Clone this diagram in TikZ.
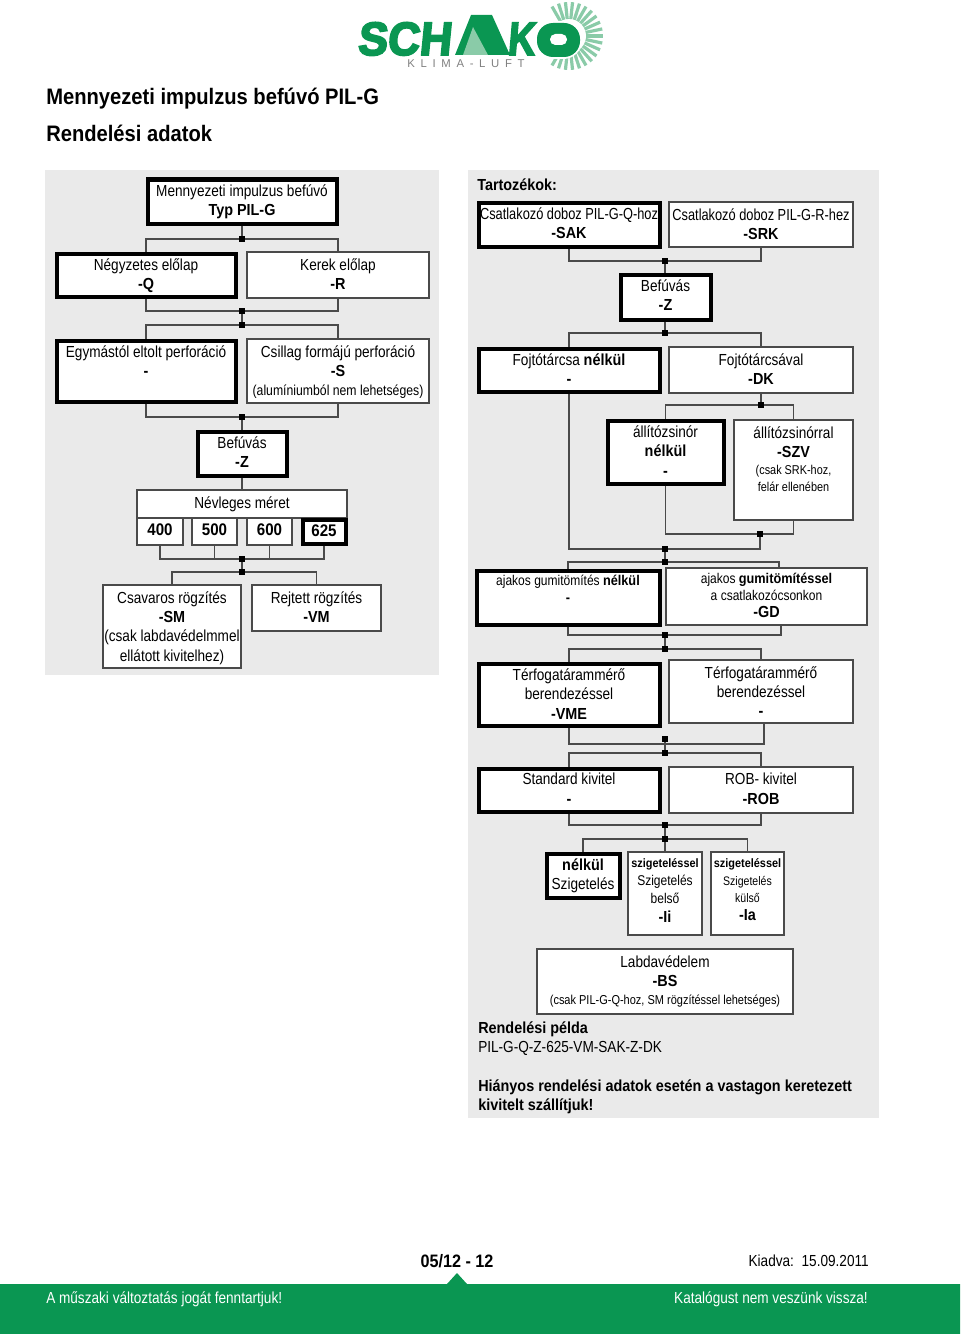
\documentclass[tikz,border=0pt]{standalone}
\usepackage{fontspec}
\setmainfont[FakeStretch=0.85,BoldFeatures={FakeStretch=0.9}]{Liberation Sans}
\newfontfamily\narrowfont[FakeStretch=0.8,BoldFeatures={FakeStretch=0.9}]{Liberation Sans}
\newfontfamily\logofont[FakeStretch=0.95,FakeSlant=0.1,FakeBold=4]{Liberation Sans Bold}
\newfontfamily\claimfont{Liberation Sans}
\definecolor{panelgray}{HTML}{EAEAEA}
\definecolor{schakogreen}{HTML}{0A9652}
\definecolor{raygreen}{HTML}{8ACBA8}
\definecolor{linegray}{HTML}{4A4A4A}
\def\px{0.75pt}
\tikzset{
  optbox/.style={draw=linegray,line width=0.85pt,fill=white,inner sep=0pt},
  heavybox/.style={draw=black,line width=3pt,fill=white,inner sep=0pt},
  txt/.style={anchor=north,align=center,inner sep=0pt,yshift=-4.9pt,
    font=\fontsize{12}{14.6}\selectfont},
  small txt/.style={txt,yshift=0.7pt,font=\fontsize{10.6}{12.8}\selectfont},
  plain/.style={anchor=west,inner sep=0pt,font=\fontsize{12}{14.25}\selectfont},
  logotxt/.style={anchor=base west,inner sep=0pt,text depth=0pt,text=schakogreen,
    font=\logofont\fontsize{35}{35}\selectfont},
  jn/.style={fill=black,inner sep=0pt,minimum size=6*\px},
  link/.style={draw=linegray,line width=0.85pt},
}
\begin{document}
\begin{tikzpicture}[x=0.75pt,y=-0.75pt]
  \useasboundingbox (0,0) rectangle (960,1334);
  %% logo
  \begin{scope}[shift={(569,36)}]
    \foreach \a in {-120,-108,...,120}
      \draw[raygreen,line width=2.4pt] (\a:17) -- (\a:34);
  \end{scope}
  \node[logotxt] (logoleft) at (357,55) {SCH};
  \fill[schakogreen] (455,55) -- (471,15) -- (492,15) -- (510,55) -- cycle;
  \fill[raygreen] (463,55) -- (473,27) -- (488,55) -- cycle;
  \fill[white,rounded corners=14] (535,21) rectangle (582,59);
  \node[logotxt] (logok) at (507,55) {\scalebox{0.85}[1]{K}};
  \fill[schakogreen,rounded corners=12] (537,23) rectangle (580,57);
  \fill[white,rounded corners=4] (550,34) rectangle (567,45);
  \node[inner sep=0pt,text=gray,font=\claimfont\fontsize{8.5}{10}\selectfont] (claim) at (466,64) {K\,\,\,L\,\,\,I\,\,\,M\,\,\,A\,\,\,-\,\,\,L\,\,\,U\,\,\,F\,\,\,T};
  %% title
  \node[plain,font=\fontsize{16.8}{20}\selectfont\bfseries] (title) at (46,99) {Mennyezeti impulzus befúvó PIL-G};
  \node[plain,font=\fontsize{16.8}{20}\selectfont\bfseries] (subtitle) at (46,133) {Rendelési adatok};
  %% panels
  \fill[panelgray] (45,170) rectangle (439,675);
  \fill[panelgray] (468,170) rectangle (879,1118);
  %% left panel
  \node[heavybox,minimum width=189*\px,minimum height=44*\px,label={[txt]north:{Mennyezeti impulzus befúvó\\\textbf{Typ PIL-G}}}] (typ) at (242,201.5) {};
  \node[heavybox,minimum width=179*\px,minimum height=43*\px,label={[txt]north:{Négyzetes előlap\\\textbf{-Q}}}] (q) at (146,275) {};
  \node[optbox,minimum width=182*\px,minimum height=46*\px,label={[txt]north:{Kerek előlap\\\textbf{-R}}}] (r) at (338,275) {};
  \node[heavybox,minimum width=179*\px,minimum height=61*\px,label={[txt]north:{Egymástól eltolt perforáció\\\textbf{-}}}] (eltolt) at (146,371) {};
  \node[optbox,minimum width=182*\px,minimum height=64*\px,label={[txt]north:{Csillag formájú perforáció\\\textbf{-S}\\{\fontsize{10.8}{14.25}\selectfont(alumíniumból nem lehetséges)}}}] (csillag) at (338,371) {};
  \node[heavybox,minimum width=89*\px,minimum height=44*\px,label={[txt]north:{Befúvás\\\textbf{-Z}}}] (befl) at (242,453.5) {};
  \node[optbox,minimum width=210*\px,minimum height=28*\px,label={[txt]north:{Névleges méret}}] (nevl) at (242,504) {};
  \node[optbox,minimum width=46*\px,minimum height=27*\px,label={[txt]north:{\fontsize{12.6}{14}\selectfont\textbf{400}}}] (s400) at (160,531.5) {};
  \node[optbox,minimum width=45*\px,minimum height=27*\px,label={[txt]north:{\fontsize{12.6}{14}\selectfont\textbf{500}}}] (s500) at (214.5,531.5) {};
  \node[optbox,minimum width=45*\px,minimum height=27*\px,label={[txt]north:{\fontsize{12.6}{14}\selectfont\textbf{600}}}] (s600) at (269.5,531.5) {};
  \node[heavybox,minimum width=43*\px,minimum height=24*\px,label={[txt]north:{\fontsize{12.6}{14}\selectfont\textbf{625}}}] (s625) at (324,531.5) {};
  \node[optbox,minimum width=138*\px,minimum height=83*\px,label={[txt]north:{Csavaros rögzítés\\\textbf{-SM}\\(csak labdavédelmmel\\ellátott kivitelhez)}}] (sm) at (172,626.5) {};
  \node[optbox,minimum width=129*\px,minimum height=46*\px,label={[txt]north:{Rejtett rögzítés\\\textbf{-VM}}}] (vm) at (316.5,608) {};
  %% left panel junctions
  \node[jn] (ja) at (242,239) {};
  \node[jn] (jb) at (242,311) {};
  \node[jn] (jc) at (242,325) {};
  \node[jn] (jd) at (242,417) {};
  \node[jn] (je) at (242,559) {};
  \node[jn] (jf) at (242,572) {};
  \draw[link] (typ) -- (ja);
  \draw[link] (q.north) |- (ja);
  \draw[link] (r.north) |- (ja);
  \draw[link] (q.south) |- (jb);
  \draw[link] (r.south) |- (jb);
  \draw[link] (jb) -- (jc);
  \draw[link] (eltolt.north) |- (jc);
  \draw[link] (csillag.north) |- (jc);
  \draw[link] (eltolt.south) |- (jd);
  \draw[link] (csillag.south) |- (jd);
  \draw[link] (jd) -- (befl);
  \draw[link] (befl) -- (nevl);
  \foreach \s in {s400,s500,s600,s625}
    \draw[link] (\s.south) |- (je);
  \draw[link] (je) -- (jf);
  \draw[link] (sm.north) |- (jf);
  \draw[link] (vm.north) |- (jf);
  %% right panel
  \node[plain,font=\fontsize{12}{14.25}\selectfont\bfseries] (tart) at (477,185) {Tartozékok:};
  \node[heavybox,minimum width=181*\px,minimum height=44*\px,label={[txt]north:{{\narrowfont Csatlakozó doboz PIL-G-Q-hoz}\\\textbf{-SAK}}}] (sak) at (569,224.5) {};
  \node[optbox,minimum width=184*\px,minimum height=45*\px,label={[txt]north:{{\narrowfont Csatlakozó doboz PIL-G-R-hez}\\\textbf{-SRK}}}] (srk) at (761,224.5) {};
  \node[heavybox,minimum width=90*\px,minimum height=45*\px,label={[txt]north:{Befúvás\\\textbf{-Z}}}] (befr) at (665.5,297) {};
  \node[heavybox,minimum width=181*\px,minimum height=43*\px,label={[txt]north:{Fojtótárcsa \textbf{nélkül}\\\textbf{-}}}] (fn) at (569,370) {};
  \node[optbox,minimum width=184*\px,minimum height=46*\px,label={[txt]north:{Fojtótárcsával\\\textbf{-DK}}}] (dk) at (761,370) {};
  \node[heavybox,minimum width=116*\px,minimum height=63*\px,label={[txt]north:{állítózsinór\\\textbf{nélkül}\\\textbf{-}}}] (zsn) at (665.5,452) {};
  \node[optbox,minimum width=119*\px,minimum height=100*\px,label={[txt]north:{állítózsinórral\\\textbf{-SZV}\\[-1.5pt]{\fontsize{9.6}{12.5}\selectfont(csak SRK-hoz,}\\[-2.5pt]{\fontsize{9.6}{12.5}\selectfont felár ellenében}}}] (szv) at (793.5,470) {};
  \node[heavybox,minimum width=183*\px,minimum height=54*\px,label={[small txt,yshift=-0.7pt]north:{ajakos gumitömítés \textbf{nélkül}\\\textbf{-}}}] (agn) at (568,597.5) {};
  \node[optbox,minimum width=201*\px,minimum height=57*\px,label={[small txt]north:{ajakos \textbf{gumitömítéssel}\\a csatlakozócsonkon\\{\fontsize{12}{13}\selectfont\textbf{-GD}}}}] (gd) at (766.5,596.5) {};
  \node[heavybox,minimum width=181*\px,minimum height=62*\px,label={[txt]north:{Térfogatárammérő\\berendezéssel\\\textbf{-VME}}}] (vme) at (569,694.5) {};
  \node[optbox,minimum width=184*\px,minimum height=63*\px,label={[txt]north:{Térfogatárammérő\\berendezéssel\\\textbf{-}}}] (tfm) at (761,691.5) {};
  \node[heavybox,minimum width=181*\px,minimum height=43*\px,label={[txt]north:{Standard kivitel\\\textbf{-}}}] (std) at (569,790) {};
  \node[optbox,minimum width=184*\px,minimum height=46*\px,label={[txt]north:{ROB- kivitel\\\textbf{-ROB}}}] (rob) at (761,790) {};
  \node[heavybox,minimum width=73*\px,minimum height=44*\px,label={[txt]north:{\textbf{nélkül}\\Szigetelés}}] (sn) at (583,875.5) {};
  \node[optbox,minimum width=74*\px,minimum height=83*\px,label={[txt]north:{{\fontsize{9.1}{12.5}\selectfont\textbf{szigeteléssel}}\\[-1pt]{\fontsize{10.6}{12.5}\selectfont Szigetelés}\\[-1pt]{\fontsize{10.6}{12.5}\selectfont belső}\\\textbf{-Ii}}}] (si) at (665,893.5) {};
  \node[optbox,minimum width=73*\px,minimum height=83*\px,label={[txt]north:{{\fontsize{9.1}{12.5}\selectfont\textbf{szigeteléssel}}\\[-1pt]{\fontsize{9.3}{12.5}\selectfont Szigetelés}\\[-1.5pt]{\fontsize{9.3}{12.5}\selectfont külső}\\[-1pt]\textbf{-Ia}}}] (sa) at (747.5,893.5) {};
  \node[optbox,minimum width=256*\px,minimum height=65*\px,label={[txt]north:{Labdavédelem\\\textbf{-BS}\\[-1pt]{\fontsize{9.7}{14.25}\selectfont(csak PIL-G-Q-hoz, SM rögzítéssel lehetséges)}}}] (bs) at (665,981.5) {};
  %% free end points
  \coordinate (gdt) at (779,568);
  \coordinate (gdb) at (781,625);
  \coordinate (tfb) at (764,723);
  %% right panel junctions
  \node[jn] (ra) at (665,261) {};
  \node[jn] (rb) at (665,333) {};
  \node[jn] (rc) at (761,405) {};
  \node[jn] (rd) at (760,534) {};
  \node[jn] (re) at (665,549) {};
  \node[jn] (rf) at (665,562) {};
  \node[jn] (rg) at (665,635) {};
  \node[jn] (rh) at (665,649) {};
  \node[jn] (ri) at (665,739) {};
  \node[jn] (rj) at (665,753) {};
  \node[jn] (rk) at (665,825) {};
  \node[jn] (rl) at (665,839) {};
  \coordinate (rbar) at (665,744);
  \draw[link] (sak.south) |- (ra);
  \draw[link] (srk.south) |- (ra);
  \draw[link] (ra) -- (befr.north -| ra);
  \draw[link] (befr.south -| rb) -- (rb);
  \draw[link] (fn.north) |- (rb);
  \draw[link] (dk.north) |- (rb);
  \draw[link] (dk.south) -- (rc);
  \draw[link] (zsn.north) |- (rc);
  \draw[link] (szv.north) |- (rc);
  \draw[link] (zsn.south) |- (rd);
  \draw[link] (szv.south) |- (rd);
  \draw[link] (rd) |- (re);
  \draw[link] (fn.south) |- (re);
  \draw[link] (re) -- (rf);
  \draw[link] (agn.north) |- (rf);
  \draw[link] (gdt) |- (rf);
  \draw[link] (agn.south) |- (rg);
  \draw[link] (gdb) |- (rg);
  \draw[link] (rg) -- (rh);
  \draw[link] (vme.north) |- (rh);
  \draw[link] (tfm.north) |- (rh);
  \draw[link] (vme.south) |- (rbar);
  \draw[link] (tfb) |- (rbar);
  \draw[link] (ri) -- (rj);
  \draw[link] (std.north) |- (rj);
  \draw[link] (rob.north) |- (rj);
  \draw[link] (std.south) |- (rk);
  \draw[link] (rob.south) |- (rk);
  \draw[link] (rk) -- (rl);
  \draw[link] (sn.north) |- (rl);
  \draw[link] (sa.north) |- (rl);
  \draw[link] (rl) -- (si.north -| rl);
  %% notes
  \node[plain,font=\fontsize{12}{14.25}\selectfont\bfseries] (pelda) at (478,1029.5) {Rendelési példa};
  \node[plain] (peldakod) at (478,1048.5) {PIL-G-Q-Z-625-VM-SAK-Z-DK};
  \node[plain,font=\fontsize{12}{14.25}\selectfont\bfseries] (hianyos) at (478,1087.5) {Hiányos rendelési adatok esetén a vastagon keretezett};
  \node[plain,font=\fontsize{12}{14.25}\selectfont\bfseries] (kivitelt) at (478,1106.5) {kivitelt szállítjuk!};
  %% footer
  \fill[schakogreen] (0,1284) -- (447,1284) -- (457,1273) -- (467,1284) -- (960,1284) -- (960,1334) -- (0,1334) -- cycle;
  \node[inner sep=0pt,font=\fontsize{13.5}{15}\selectfont\bfseries] (seite) at (457,1261) {05/12 - 12};
  \node[plain,anchor=east] (kiadva) at (869,1261) {Kiadva:\, 15.09.2011};
  \node[plain,text=white] (musz) at (46,1299) {A műszaki változtatás jogát fenntartjuk!};
  \node[plain,anchor=east,text=white] (katal) at (868,1299) {Katalógust nem veszünk vissza!};
\end{tikzpicture}
\end{document}
